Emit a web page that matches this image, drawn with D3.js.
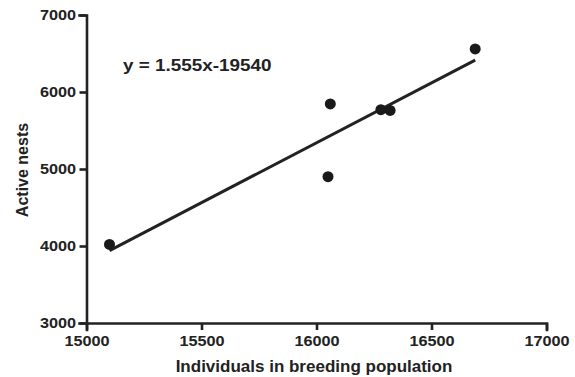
<!DOCTYPE html>
<html>
<head>
<meta charset="utf-8">
<script src="https://cdn.jsdelivr.net/npm/d3@7"></script>
<style>
  body { margin: 0; background: #fff; }
  text { font-family: "Liberation Sans", Arial, sans-serif; font-weight: bold; fill: #222; }
  .axis path, .axis line { stroke: #222; stroke-width: 2.6; }
</style>
</head>
<body>
<svg width="575" height="377"></svg>
<script>
// data
var population = [15100, 16050, 16060, 16280, 16320, 16690];
var nests = [4020, 4900, 5845, 5770, 5760, 6560];
var xTicks = [15000, 15500, 16000, 16500, 17000];
var yTicks = [3000, 4000, 5000, 6000, 7000];
var slope = 1.555, intercept = -19540;
var fitRange = [15100, 16690];

var svg = d3.select('svg');

var xScale = d3.scaleLinear().domain([15000, 17000]).range([86.5, 546.5]);
var yScale = d3.scaleLinear().domain([3000, 7000]).range([323, 15]);

svg.append('g').attr('class', 'x axis')
    .attr('transform', 'translate(0,323)')
    .call(d3.axisBottom(xScale).tickValues(xTicks).tickSize(7).tickPadding(6).tickFormat(d3.format('d')));

svg.append('g').attr('class', 'y axis')
    .attr('transform', 'translate(86.5,0)')
    .call(d3.axisLeft(yScale).tickValues(yTicks).tickSize(7).tickPadding(2).tickFormat(d3.format('d')));

svg.selectAll('.axis .domain').attr('stroke-linecap', 'square');
svg.selectAll('.axis text')
    .attr('font-family', null)
    .style('font-size', '14px')
    .attr('transform', 'scale(1.16,1)');

svg.append('text')
    .attr('transform', 'translate(314,372)')
    .attr('text-anchor', 'middle')
    .style('font-size', '17px')
    .text('Individuals in breeding population');

svg.append('text')
    .attr('transform', 'translate(28,170) rotate(-90)')
    .attr('text-anchor', 'middle')
    .style('font-size', '16px')
    .text('Active nests');

svg.append('text')
    .attr('transform', 'translate(123,71) scale(1.18,1)')
    .style('font-size', '16px')
    .text('y = 1.555x-19540');

// fitted line
svg.append('line')
    .attr('x1', xScale(fitRange[0]))
    .attr('y1', yScale(slope * fitRange[0] + intercept))
    .attr('x2', xScale(fitRange[1]))
    .attr('y2', yScale(slope * fitRange[1] + intercept))
    .attr('stroke', '#222')
    .attr('stroke-width', 3);

svg.append('g')
    .selectAll('circle')
    .data(population)
    .enter()
    .append('circle')
        .attr('cx', function(d) { return xScale(d); })
        .attr('cy', function(d, i) { return yScale(nests[i]); })
        .attr('r', 5.5)
        .attr('fill', '#1a1a1a');
</script>
</body>
</html>
